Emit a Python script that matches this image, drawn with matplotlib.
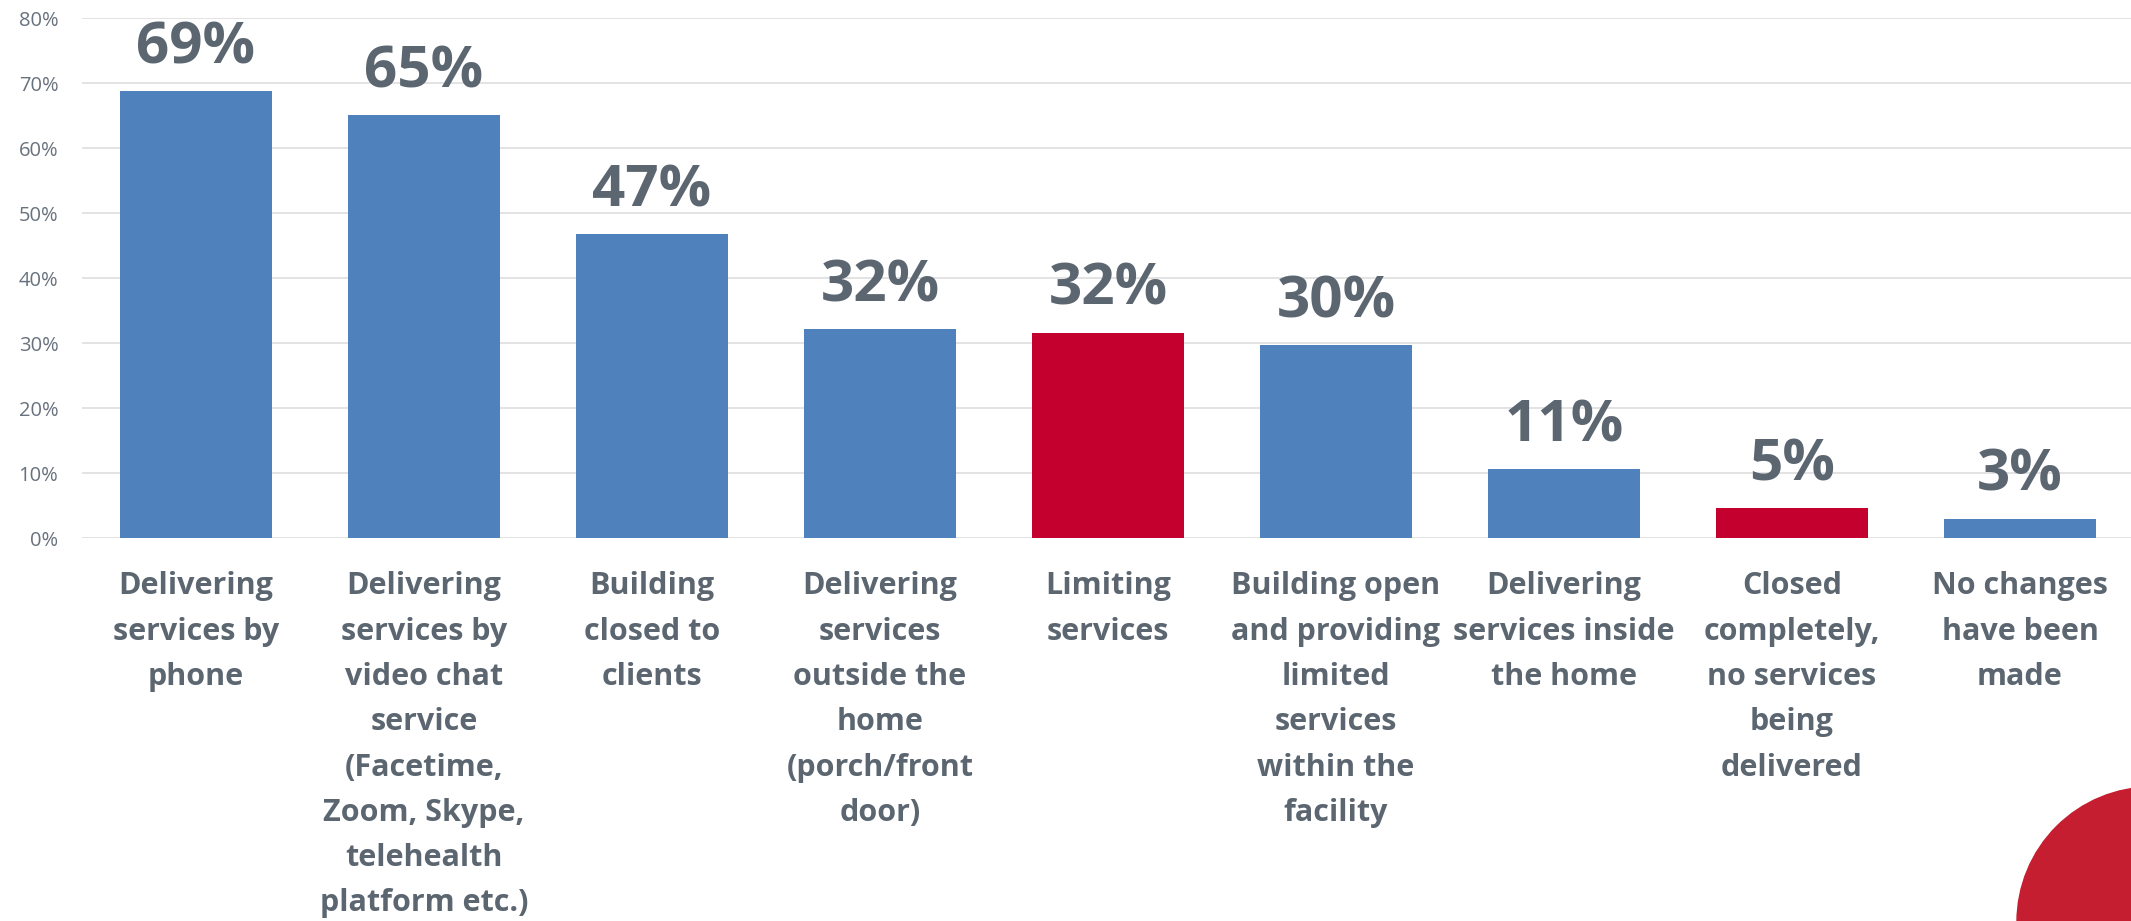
import matplotlib
matplotlib.use("Agg")
import matplotlib.pyplot as plt
from matplotlib.patches import Circle
from matplotlib.ticker import FuncFormatter

# Survey responses: how services changed
categories = [
    "Delivering\nservices by\nphone",
    "Delivering\nservices by\nvideo chat\nservice\n(Facetime,\nZoom, Skype,\ntelehealth\nplatform etc.)",
    "Building\nclosed to\nclients",
    "Delivering\nservices\noutside the\nhome\n(porch/front\ndoor)",
    "Limiting\nservices",
    "Building open\nand providing\nlimited\nservices\nwithin the\nfacility",
    "Delivering\nservices inside\nthe home",
    "Closed\ncompletely,\nno services\nbeing\ndelivered",
    "No changes\nhave been\nmade",
]
percent = [68.8, 65.1, 46.8, 32.1, 31.6, 29.7, 10.6, 4.6, 3.0]
highlight = [False, False, False, False, True, False, False, True, False]

blue = "#4F81BD"
red = "#C4002F"
text_grey = "#5B6670"

plt.rcParams['font.family'] = ['Open Sans', 'DejaVu Sans']

fig = plt.figure(figsize=(21.31, 9.21), dpi=100)
ax = fig.add_axes([82 / 2131, 383 / 921, 2049 / 2131, 520 / 921])

x = list(range(len(categories)))
colors = [red if h else blue for h in highlight]
bars = ax.bar(x, percent, width=0.667, color=colors, zorder=3)

for xi, v in zip(x, percent):
    ax.annotate(f"{v:.0f}%", (xi, v), xytext=(0, 20), textcoords="offset points",
                ha="center", va="baseline", fontsize=42, fontweight="bold",
                color=text_grey)

ax.set_xlim(-0.5, 8.487)
ax.set_ylim(0, 80)
ax.set_yticks(range(0, 81, 10))
ax.yaxis.set_major_formatter(FuncFormatter(lambda v, p: f"{v:.0f}%"))
ax.grid(axis="y", color="#E0E0E0", linewidth=1.3, zorder=0)
for s in ax.spines.values():
    s.set_visible(False)

ax.set_xticks(x)
ax.set_xticklabels(categories, fontsize=22, fontweight="bold", color=text_grey,
                   linespacing=1.665, va="top")
ax.tick_params(axis="x", length=0, pad=24)
ax.tick_params(axis="y", length=0, pad=17, labelsize=14.5, labelcolor="#68727E")

# decorative corner disc
fig.patches.append(Circle((21.52, -0.01), 1.35, transform=fig.dpi_scale_trans,
                          color="#C41E30", zorder=0))

fig.savefig("out.png", dpi=100)
